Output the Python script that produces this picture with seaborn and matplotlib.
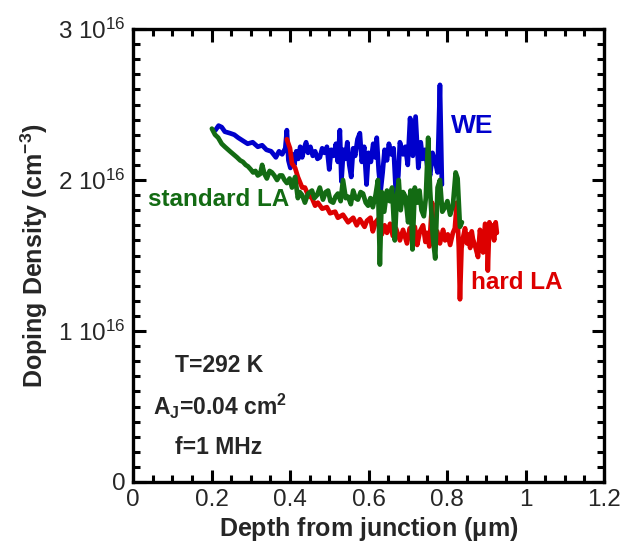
import numpy as np
import pandas as pd
import matplotlib
matplotlib.use("Agg")
import matplotlib.pyplot as plt
from matplotlib.ticker import MultipleLocator, FixedLocator
import seaborn as sns

# ---------------- data (doping density in units of 1e16 cm^-3) ----------------
we_x = [0.210, 0.218, 0.226, 0.234, 0.247, 0.258, 0.268, 0.280, 0.292, 0.305,
        0.318, 0.329, 0.340, 0.352, 0.364, 0.372, 0.380, 0.388, 0.392, 0.396,
        0.401, 0.406, 0.411, 0.416, 0.421, 0.426, 0.431, 0.436, 0.441, 0.446,
        0.452, 0.458, 0.464, 0.470, 0.476, 0.482, 0.488, 0.494, 0.500, 0.505,
        0.511, 0.517, 0.522, 0.527, 0.531, 0.536, 0.541, 0.546, 0.551, 0.556,
        0.561, 0.566, 0.572, 0.578, 0.583, 0.589, 0.595, 0.600, 0.606, 0.612,
        0.617, 0.621, 0.626, 0.631, 0.636, 0.641, 0.647, 0.652, 0.658, 0.664,
        0.670, 0.676, 0.680, 0.688, 0.694, 0.700, 0.706, 0.713, 0.720, 0.727,
        0.733, 0.738, 0.744, 0.750, 0.757, 0.763, 0.770, 0.776, 0.782, 0.787]
we_y = [2.33, 2.36, 2.35, 2.32, 2.31, 2.30, 2.28, 2.26, 2.24, 2.25,
        2.22, 2.23, 2.20, 2.19, 2.15, 2.19, 2.17, 2.21, 2.33, 2.13,
        2.08, 2.17, 2.10, 2.19, 2.14, 2.22, 2.15, 2.21, 2.25, 2.18,
        2.22, 2.16, 2.19, 2.14, 2.15, 2.21, 2.18, 2.22, 2.07, 2.20,
        2.16, 2.24, 2.12, 2.33, 1.99, 2.20, 2.14, 2.25, 2.10, 2.02,
        2.21, 2.16, 2.27, 2.31, 2.12, 2.22, 1.97, 2.18, 2.12, 2.24,
        2.15, 2.28, 2.06, 1.93, 2.05, 2.20, 2.13, 2.24, 2.17, 2.21,
        1.90, 2.03, 2.25, 2.17, 2.22, 2.10, 2.41, 2.16, 2.42, 2.08,
        2.25, 2.14, 2.20, 2.09, 2.03, 2.18, 2.12, 2.05, 2.63, 1.97]

std_x = [0.201, 0.209, 0.217, 0.226, 0.234, 0.247, 0.256, 0.265, 0.273, 0.280,
         0.287, 0.293, 0.300, 0.306, 0.312, 0.318, 0.324, 0.329, 0.335, 0.341,
         0.348, 0.354, 0.360, 0.367, 0.374, 0.380, 0.386, 0.392, 0.399, 0.405,
         0.413, 0.420, 0.425, 0.431, 0.438, 0.446, 0.456, 0.462, 0.469, 0.476,
         0.484, 0.491, 0.497, 0.503, 0.510, 0.516, 0.522, 0.529, 0.535, 0.542,
         0.548, 0.555, 0.561, 0.567, 0.573, 0.580, 0.586, 0.593, 0.599, 0.605,
         0.611, 0.618, 0.624, 0.629, 0.634, 0.640, 0.647, 0.654, 0.660, 0.667,
         0.672, 0.677, 0.682, 0.688, 0.694, 0.701, 0.707, 0.712, 0.718, 0.724,
         0.730, 0.735, 0.741, 0.746, 0.752, 0.757, 0.764, 0.770, 0.776, 0.782,
         0.788, 0.795, 0.801, 0.808, 0.815, 0.822, 0.827, 0.833, 0.838]
std_y = [2.34, 2.30, 2.28, 2.24, 2.22, 2.19, 2.17, 2.15, 2.13, 2.12,
         2.10, 2.09, 2.07, 2.05, 2.06, 2.03, 2.04, 2.10, 2.04, 2.01,
         2.06, 2.05, 2.03, 2.00, 2.03, 2.03, 2.00, 1.98, 2.01, 1.95,
         2.02, 1.88, 1.92, 1.90, 1.85, 1.91, 1.93, 1.88, 1.90, 1.95,
         1.87, 1.92, 1.93, 1.86, 1.85, 1.89, 1.91, 1.86, 2.00, 1.88,
         1.89, 1.84, 1.93, 1.88, 1.87, 1.92, 1.91, 1.85, 1.83, 1.88,
         1.82, 1.90, 2.00, 1.44, 1.92, 1.79, 1.93, 1.86, 1.95, 1.60,
         1.88, 2.00, 1.80, 1.92, 1.89, 1.72, 1.93, 1.54, 1.95, 1.85,
         1.93, 1.80, 1.76, 1.88, 2.28, 1.93, 1.62, 1.48, 1.95, 2.00,
         1.79, 1.82, 1.86, 1.77, 1.83, 2.05, 2.01, 1.69, 1.72]

hard_x = [0.392, 0.400, 0.405, 0.413, 0.420, 0.431, 0.438, 0.446, 0.456, 0.464,
          0.471, 0.482, 0.494, 0.502, 0.515, 0.522, 0.535, 0.548, 0.561, 0.570,
          0.578, 0.590, 0.596, 0.605, 0.611, 0.618, 0.624, 0.634, 0.641, 0.647,
          0.655, 0.662, 0.670, 0.680, 0.688, 0.698, 0.705, 0.711, 0.718, 0.724,
          0.731, 0.739, 0.745, 0.749, 0.755, 0.762, 0.766, 0.775, 0.782, 0.790,
          0.795, 0.802, 0.808, 0.815, 0.820, 0.825, 0.830, 0.833, 0.837, 0.841,
          0.846, 0.851, 0.855, 0.859, 0.863, 0.866, 0.872, 0.879, 0.884, 0.889,
          0.892, 0.897, 0.902, 0.904, 0.908, 0.912, 0.915, 0.920, 0.924, 0.927]
hard_y = [2.27, 2.21, 2.11, 2.08, 2.02, 1.95, 1.95, 1.90, 1.88, 1.83,
          1.85, 1.81, 1.82, 1.78, 1.79, 1.75, 1.77, 1.72, 1.75, 1.70,
          1.74, 1.69, 1.73, 1.75, 1.66, 1.72, 1.74, 1.64, 1.70, 1.65,
          1.71, 1.63, 1.68, 1.60, 1.67, 1.58, 1.68, 1.62, 1.69, 1.57,
          1.66, 1.70, 1.59, 1.65, 1.56, 1.85, 1.62, 1.66, 1.58, 1.67,
          1.60, 1.64, 1.57, 1.65, 1.68, 1.85, 1.56, 1.21, 1.55, 1.62,
          1.68, 1.58, 1.64, 1.55, 1.66, 1.61, 1.56, 1.49, 1.67, 1.58,
          1.52, 1.71, 1.69, 1.40, 1.72, 1.63, 1.70, 1.60, 1.72, 1.65]

y_ticks = [0, 1, 2, 3]
y_tick_labels = ["0", r"1 10$^{16}$", r"2 10$^{16}$", r"3 10$^{16}$"]
x_ticks = [0, 0.2, 0.4, 0.6, 0.8, 1.0, 1.2]
x_tick_labels = ["0", "0.2", "0.4", "0.6", "0.8", "1", "1.2"]
SCALE = 1e16

# ---------------- style ----------------
sns.set_style("ticks")
plt.rcParams["font.family"] = ["Liberation Sans", "DejaVu Sans"]
plt.rcParams["mathtext.fontset"] = "custom"
plt.rcParams["mathtext.rm"] = "Liberation Sans"
plt.rcParams["mathtext.it"] = "Liberation Sans"
plt.rcParams["mathtext.bf"] = "Liberation Sans:bold"
plt.rcParams["mathtext.default"] = "regular"

BLUE = "#0000CC"
GREEN = "#136B13"
RED = "#DD0000"

fig = plt.figure(figsize=(6.35, 5.43), dpi=100)
ax = fig.add_axes([133 / 635, 1 - 482 / 543, (604 - 133) / 635, (482 - 29) / 543])

frames = [
    pd.DataFrame({"x": we_x, "y": np.array(we_y) * SCALE, "s": "WE"}),
    pd.DataFrame({"x": hard_x, "y": np.array(hard_y) * SCALE, "s": "hard LA"}),
    pd.DataFrame({"x": std_x, "y": np.array(std_y) * SCALE, "s": "standard LA"}),
]
colors = {"WE": BLUE, "hard LA": RED, "standard LA": GREEN}
for df in frames:
    name = df["s"].iloc[0]
    sns.lineplot(data=df, x="x", y="y", sort=False, estimator=None,
                 color=colors[name], linewidth=3.4, ax=ax, legend=False)

ax.set_xlim(0, 1.2)
ax.set_ylim(0, 3 * SCALE)
ax.xaxis.set_major_locator(FixedLocator(x_ticks))
ax.set_xticklabels(x_tick_labels)
ax.xaxis.set_minor_locator(MultipleLocator(0.05))
ax.yaxis.set_major_locator(FixedLocator([v * SCALE for v in y_ticks]))
ax.set_yticklabels(y_tick_labels)
ax.yaxis.set_minor_locator(MultipleLocator(0.1 * SCALE))

for sp in ax.spines.values():
    sp.set_linewidth(2.4)
    sp.set_color("black")
    sp.set_visible(True)
ax.tick_params(which="both", direction="in", top=True, right=True,
               color="black", width=2.2)
ax.tick_params(which="major", length=9, labelsize=17.5, pad=5)
ax.tick_params(which="minor", length=5)

ax.set_xlabel(r"Depth from junction ($\mathbf{\mu}$m)", fontsize=18,
              fontweight="bold", labelpad=3)
ax.set_ylabel(r"Doping Density (cm$^{\mathbf{-3}}$)", fontsize=18,
              fontweight="bold", labelpad=6)

ax.text(0.81, 2.36 * SCALE, "WE", color=BLUE, fontsize=19, fontweight="bold",
        va="center", ha="left")
ax.text(0.038, 1.87 * SCALE, "standard LA", color=GREEN, fontsize=17.5,
        fontweight="bold", va="center", ha="left")
ax.text(0.86, 1.32 * SCALE, "hard LA", color=RED, fontsize=17.5,
        fontweight="bold", va="center", ha="left")

ax.text(0.107, 0.77 * SCALE, "T=292 K", fontsize=16.5, fontweight="bold",
        va="center", ha="left")
ax.text(0.05, 0.50 * SCALE, r"A$_{\mathbf{J}}$=0.04 cm$^{\mathbf{2}}$",
        fontsize=16.5, fontweight="bold", va="center", ha="left")
ax.text(0.107, 0.23 * SCALE, "f=1 MHz", fontsize=16.5, fontweight="bold",
        va="center", ha="left")

fig.savefig("out.png", dpi=100)
